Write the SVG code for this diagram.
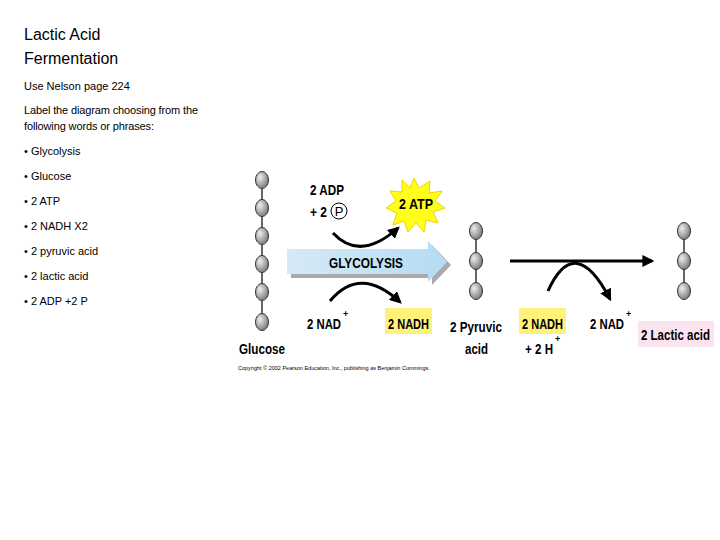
<svg xmlns="http://www.w3.org/2000/svg" width="720" height="540" viewBox="0 0 720 540">
<defs>
<radialGradient id="ball" cx="0.35" cy="0.35" r="0.7"><stop offset="0" stop-color="#eee"/><stop offset="1" stop-color="#777"/></radialGradient>
<linearGradient id="gl" x1="0" y1="0" x2="1" y2="0"><stop offset="0" stop-color="#d6e9f7"/><stop offset="1" stop-color="#b5dcf3"/></linearGradient>
<marker id="ah" viewBox="0 0 10 10" refX="8" refY="5" markerWidth="4" markerHeight="4" orient="auto"><path d="M0,0L10,5L0,10z" fill="#000"/></marker>
</defs>
<style>
text{font-family:"Liberation Sans",Arial,sans-serif;fill:#000}
.t{font-size:11px}
.b{font-size:15px;font-weight:bold}
.s{font-size:9px;font-weight:bold}
.ball{fill:url(#ball);stroke:#333;stroke-width:1}
.chain{stroke:#333;stroke-width:1.5}
.c{fill:none;stroke:#000;stroke-width:3}
</style>
<rect width="720" height="540" fill="#fff"/>
<g id="text-left">
<text x="24" y="40" style="font-size:16px">Lactic Acid</text>
<text x="24" y="64" style="font-size:16px">Fermentation</text>
<text class="t" x="24" y="90">Use Nelson page 224</text>
<text class="t" x="24" y="114" textLength="174">Label the diagram choosing from the</text>
<text class="t" x="24" y="130" textLength="130">following words or phrases:</text>
<text class="t" x="24" y="155">• Glycolysis</text>
<text class="t" x="24" y="180">• Glucose</text>
<text class="t" x="24" y="205">• 2 ATP</text>
<text class="t" x="24" y="230">• 2 NADH X2</text>
<text class="t" x="24" y="255">• 2 pyruvic acid</text>
<text class="t" x="24" y="280">• 2 lactic acid</text>
<text class="t" x="24" y="305">• 2 ADP +2 P</text>
</g>
<g id="glucose">
<line class="chain" x1="262" y1="180" x2="262" y2="322"/>
<ellipse class="ball" cx="262" cy="180" rx="6.5" ry="8.5"/>
<ellipse class="ball" cx="262" cy="208" rx="6.5" ry="8.5"/>
<ellipse class="ball" cx="262" cy="236" rx="6.5" ry="8.5"/>
<ellipse class="ball" cx="262" cy="264" rx="6.5" ry="8.5"/>
<ellipse class="ball" cx="262" cy="292" rx="6.5" ry="8.5"/>
<ellipse class="ball" cx="262" cy="322" rx="6.5" ry="8.5"/>
<text class="b" x="239" y="354" textLength="46" lengthAdjust="spacingAndGlyphs">Glucose</text>
</g>
<g id="glycolysis">
<path d="M289,251H430V243L449,263L430,283V276H289Z" fill="#aaa" transform="translate(2,2)"/>
<path d="M287,249H428V241L447,262L428,282V274H287Z" fill="url(#gl)"/>
<text class="b" x="329" y="268" textLength="74" lengthAdjust="spacingAndGlyphs">GLYCOLYSIS</text>
</g>
<g id="atp">
<polygon points="414,178 419,188 430,181 429,193 442,191 435,201 445,208 433,212 438,223 426,220 424,232 416,223 408,232 404,221 393,225 397,213 386,208 396,201 390,191 402,192 402,180 410,188" fill="#ffff1a" stroke="#f5d000" stroke-width="1"/>
<text class="b" x="399" y="209" textLength="34" lengthAdjust="spacingAndGlyphs">2 ATP</text>
</g>
<g id="adp">
<text class="b" x="310" y="195" textLength="34" lengthAdjust="spacingAndGlyphs">2 ADP</text>
<text class="b" x="310" y="217" textLength="17" lengthAdjust="spacingAndGlyphs">+ 2</text>
<circle cx="339" cy="211" r="8" fill="#fff" stroke="#000"/>
<text x="339" y="216" text-anchor="middle" style="font-size:13px">P</text>
</g>
<g id="nad1"><text class="b" x="307" y="329" textLength="34" lengthAdjust="spacingAndGlyphs">2 NAD</text><text class="s" x="343" y="317">+</text></g>
<g id="nadh1"><rect x="385" y="308" width="47" height="26" fill="#fff27a"/><text class="b" x="388" y="329" textLength="41" lengthAdjust="spacingAndGlyphs">2 NADH</text></g>
<g id="pyruvic">
<line class="chain" x1="476" y1="231" x2="476" y2="291"/>
<ellipse class="ball" cx="476" cy="231" rx="6.5" ry="8.5"/>
<ellipse class="ball" cx="476" cy="261" rx="6.5" ry="8.5"/>
<ellipse class="ball" cx="476" cy="291" rx="6.5" ry="8.5"/>
<text class="b" x="450" y="332" textLength="52" lengthAdjust="spacingAndGlyphs">2 Pyruvic</text>
<text class="b" x="465" y="354" textLength="23" lengthAdjust="spacingAndGlyphs">acid</text>
</g>
<g id="nadh2"><rect x="519" y="308" width="47" height="26" fill="#fff27a"/><text class="b" x="522" y="329" textLength="41" lengthAdjust="spacingAndGlyphs">2 NADH</text>
<text class="b" x="525" y="354" textLength="28" lengthAdjust="spacingAndGlyphs">+ 2 H</text><text class="s" x="555" y="342">+</text></g>
<g id="nad2"><text class="b" x="590" y="329" textLength="34" lengthAdjust="spacingAndGlyphs">2 NAD</text><text class="s" x="626" y="317">+</text></g>
<g id="lactic">
<line class="chain" x1="684" y1="231" x2="684" y2="291"/>
<ellipse class="ball" cx="684" cy="231" rx="6.5" ry="8.5"/>
<ellipse class="ball" cx="684" cy="261" rx="6.5" ry="8.5"/>
<ellipse class="ball" cx="684" cy="291" rx="6.5" ry="8.5"/>
<rect x="638" y="321" width="76" height="26" fill="#fbe4ef"/>
<text class="b" x="641" y="340" textLength="69" lengthAdjust="spacingAndGlyphs">2 Lactic acid</text>
</g>
<g id="connectors">
<path class="c" d="M333,233Q360,262 398,228" marker-end="url(#ah)"/>
<path class="c" d="M330,301Q360,265 400,302" marker-end="url(#ah)"/>
<line class="c" x1="510" y1="261" x2="652" y2="261" marker-end="url(#ah)"/>
<path class="c" d="M548,291Q575,232 610,299" marker-end="url(#ah)"/>
</g>
<text x="238" y="370" style="font-size:5.5px">Copyright © 2002 Pearson Education, Inc., publishing as Benjamin Cummings.</text>
</svg>
